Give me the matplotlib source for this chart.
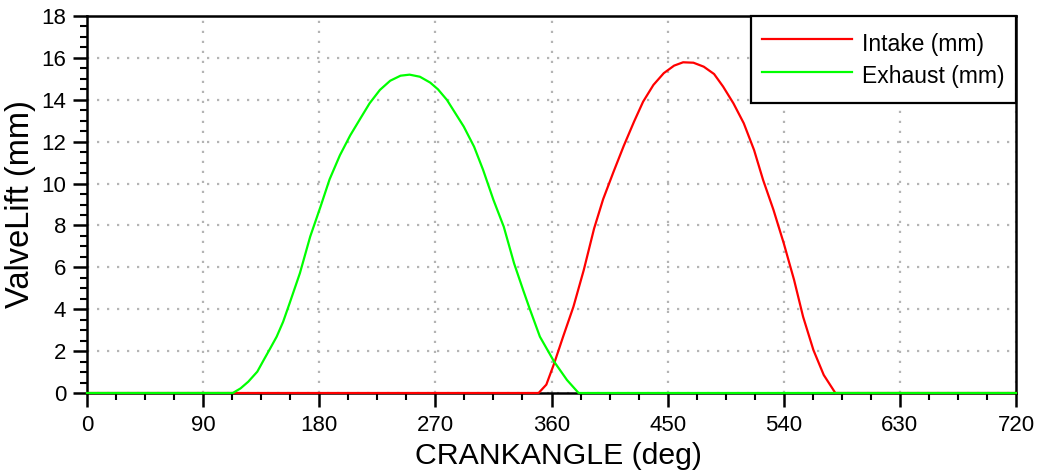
"""
Valve lift vs crank angle - intake and exhaust.
"""

import matplotlib
matplotlib.use("Agg")
import matplotlib.pyplot as plt
from matplotlib.ticker import MultipleLocator

plt.rcParams['font.family'] = ['Liberation Sans', 'DejaVu Sans']

# Exhaust valve lift
exhaust_deg = [0, 113, 119, 125, 132, 137, 142, 147, 152, 157, 165, 173, 181, 188, 196, 204,
               212, 219, 227, 235, 243, 250, 258, 266, 272, 279, 292, 300, 307, 315,
               323, 331, 338, 343, 351, 362, 372, 381, 720]
exhaust_mm = [0, 0, 0.22, 0.54, 1.02, 1.58, 2.13, 2.69, 3.4, 4.28, 5.72, 7.47, 8.9, 10.2, 11.35, 12.3,
              13.12, 13.83, 14.47, 14.91, 15.15, 15.2, 15.1, 14.82, 14.5, 13.99, 12.72, 11.76, 10.65, 9.22,
              7.94, 6.19, 4.92, 4.04, 2.69, 1.5, 0.62, 0, 0]

# Intake valve lift
intake_deg = [0, 350, 356, 362, 369, 377, 385, 393, 400, 408, 416, 424, 431, 439,
              447, 455, 462, 470, 478, 486, 493, 501, 509, 517, 524, 532, 540,
              548, 555, 563, 571, 580, 720]
intake_mm = [0, 0, 0.4, 1.4, 2.69, 4.12, 5.87, 7.85, 9.25, 10.55, 11.8, 12.96, 13.91, 14.71,
             15.27, 15.63, 15.79, 15.77, 15.58, 15.23, 14.63, 13.83, 12.88, 11.6, 10.17, 8.75, 7.15,
             5.4, 3.64, 2.05, 0.86, 0, 0]

fig = plt.figure(figsize=(10.43, 4.76), dpi=100)
ax = fig.add_axes([87 / 1043, 1 - 393 / 476, (1016 - 87) / 1043, (393 - 16) / 476])

ax.plot(intake_deg, intake_mm, color='#ff0000', linewidth=1.6, label='Intake (mm)',
        clip_on=False, zorder=3)
ax.plot(exhaust_deg, exhaust_mm, color='#00ff00', linewidth=1.6, label='Exhaust (mm)',
        clip_on=False, zorder=4)

ax.set_xlim(0, 720)
ax.set_ylim(0, 18)
ax.xaxis.set_major_locator(MultipleLocator(90))
ax.xaxis.set_minor_locator(MultipleLocator(22.5))
ax.yaxis.set_major_locator(MultipleLocator(2))
ax.yaxis.set_minor_locator(MultipleLocator(0.5))
ax.tick_params(which='major', length=10, width=1.8, labelsize=16, pad=6)
ax.tick_params(which='minor', length=5, width=1.5)
ax.tick_params(axis='y', which='major', pad=5)

for s in ax.spines.values():
    s.set_linewidth(1.8)

ax.grid(True, which='major', color='#b4b4b4', linestyle=(0, (1, 3.5)), linewidth=1.6)
ax.set_axisbelow(True)

ax.set_xlabel('CRANKANGLE (deg)', fontsize=21.75, labelpad=4)
ax.xaxis.label.set_x(0.5075)
ax.set_ylabel('ValveLift (mm)', fontsize=23.5, labelpad=4)

leg = ax.legend(loc='upper right', borderaxespad=0, fancybox=False, fontsize=16.5,
                handlelength=3.9, handleheight=1.82, handletextpad=0.48, labelspacing=0.0,
                borderpad=0.48)
leg.get_frame().set_edgecolor('black')
leg.get_frame().set_linewidth(1.6)
leg.get_frame().set_alpha(1)

plt.savefig('out.png', dpi=100)
